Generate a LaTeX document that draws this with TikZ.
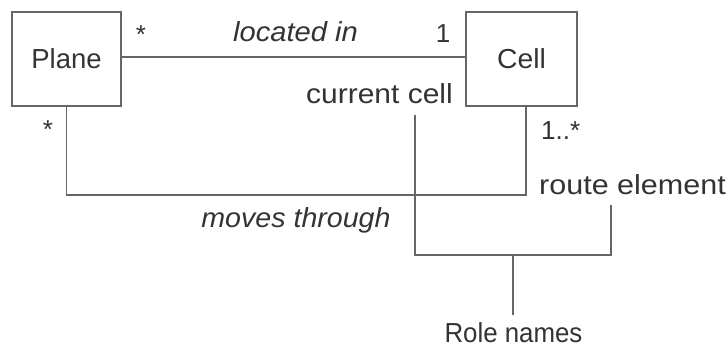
\documentclass[tikz,border=0pt]{standalone}
\usepackage{fontspec}
\usepackage{graphicx}
\setmainfont{Liberation Sans}
\begin{document}
\begin{tikzpicture}[x=1pt,y=-1pt,
  every node/.style={text=black!80, font=\fontsize{27.5}{30}\selectfont},
  cls/.style={draw=black!60, line width=1.8pt, inner sep=0pt},
  conn/.style={draw=black!60, line width=1.8pt},
  lbl/.style={anchor=base, inner sep=0pt},
  lbll/.style={anchor=base west, inner sep=0pt},
  small/.style={font=\fontsize{26}{30}\selectfont},
  it/.style={font=\fontsize{27.5}{30}\selectfont\itshape}]
\useasboundingbox (0,0) rectangle (728,347);
\node[cls, minimum width=109pt, minimum height=94pt] (Plane) at (66.5,59) {Plane};
\node[cls, minimum width=111pt, minimum height=94pt] (Cell) at (521.5,59) {\scalebox{1.03}[1]{Cell}};
% located in
\draw[conn] ([yshift=2pt]Plane.east) -- ([yshift=2pt]Cell.west);
\node[lbl, small] (m1) at (141,44) {*};
\node[lbl, it] (loc) at (295.5,42) {\scalebox{1.06}[1]{located in}};
\node[lbl, small] (m2) at (443,43) {1};
\node[lbl] (cur) at (379.5,104) {\scalebox{1.09}[1]{current cell}};
% moves through
\coordinate (mt) at (526,195);
\draw[conn] (Plane.south) |- (mt) -- ([xshift=4.5pt]Cell.south);
\node[lbl, small] (m3) at (48,139) {*};
\node[lbll, small] (m4) at (541,140) {1..*};
\node[lbll] (route) at (539,195) {\scalebox{1.11}[1]{route element}};
\node[lbl, it] (mov) at (296,228) {\scalebox{1.04}[1]{moves through}};
% role names bracket
\coordinate (cc) at (415,115);
\coordinate (re) at (611,205);
\coordinate (br) at (513,255);
\coordinate (rt) at (513,315);
\draw[conn] (cc) |- (br) -| (re);
\draw[conn] (br) -- (rt);
\node[lbl] (role) at (513.5,342.5) {\scalebox{0.94}[1]{Role names}};
\end{tikzpicture}
\end{document}
